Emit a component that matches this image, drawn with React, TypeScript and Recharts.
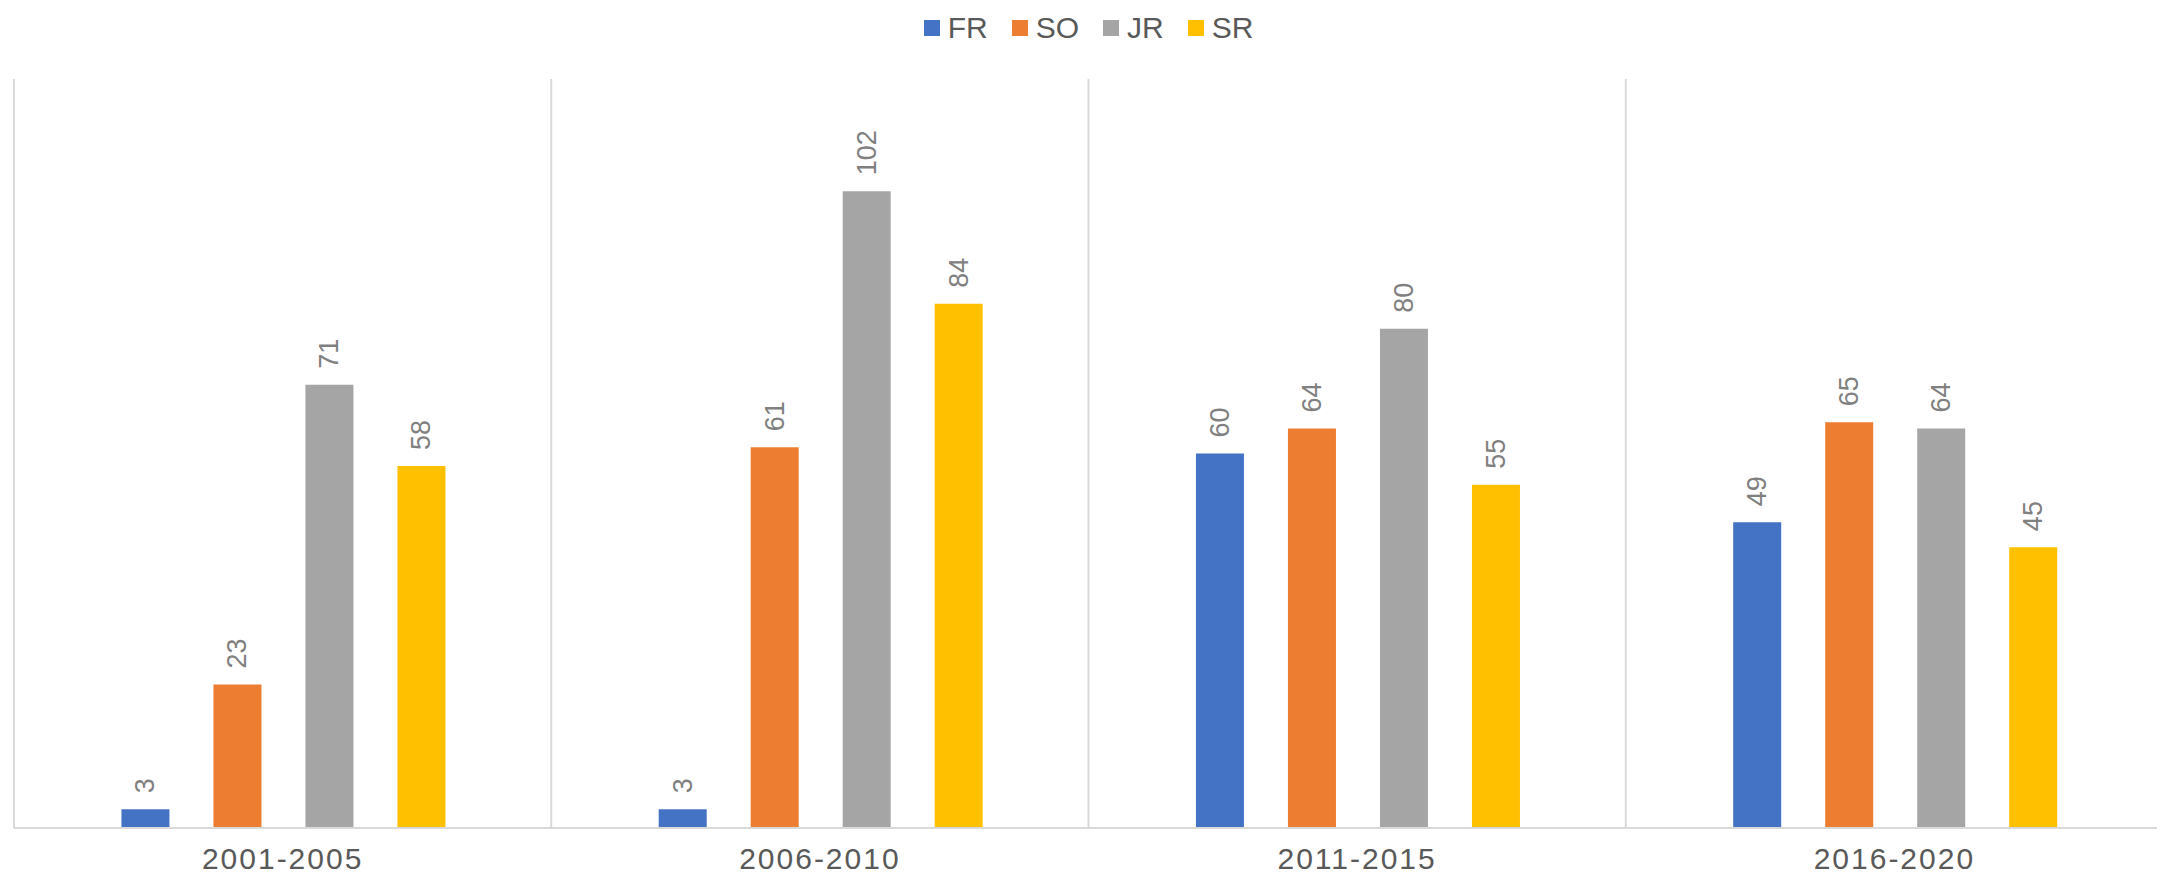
import { BarChart, Bar, XAxis, YAxis, CartesianGrid, Legend, LabelList } from 'recharts';

const periods = ['2001-2005', '2006-2010', '2011-2015', '2016-2020'];
const fr = [3, 3, 60, 49];
const so = [23, 61, 64, 65];
const jr = [71, 102, 80, 64];
const sr = [58, 84, 55, 45];

const series = [
  { key: 'FR', values: fr, color: '#4472c4' },
  { key: 'SO', values: so, color: '#ed7d31' },
  { key: 'JR', values: jr, color: '#a5a5a5' },
  { key: 'SR', values: sr, color: '#ffc000' },
];

const data = periods.map((p, i) => {
  const row: Record<string, string | number> = { period: p };
  series.forEach(s => { row[s.key] = s.values[i]; });
  return row;
});

const FONT = '"Liberation Sans", Arial, sans-serif';

const RotatedLabel = (props: any) => {
  const { x, y, width, value } = props;
  const cx = x + width / 2;
  const cy = y - 16;
  return (
    <text
      x={cx}
      y={cy}
      transform={`rotate(-90, ${cx}, ${cy})`}
      textAnchor="start"
      dominantBaseline="central"
      fill="#808080"
      fontSize={27}
      fontFamily={FONT}
    >
      {value}
    </text>
  );
};

// keep the series order (recharts sorts the payload by name)
const LegendContent = () => (
  <div style={{ height: 40, display: 'flex', justifyContent: 'center', alignItems: 'center', fontFamily: FONT }}>
    {series.map(s => (
      <div key={s.key} style={{ display: 'flex', alignItems: 'center', margin: '0 12px' }}>
        <span style={{ width: 16, height: 16, background: s.color, display: 'inline-block', marginRight: 8 }} />
        <span style={{ fontSize: 30, color: '#595959' }}>{s.key}</span>
      </div>
    ))}
  </div>
);

export default function App() {
  return (
    <BarChart
      width={2157}
      height={870}
      data={data}
      margin={{ top: 31, right: 2, left: 6, bottom: 0 }}
      barCategoryGap="20%"
      barGap={44}
    >
      <CartesianGrid
        horizontal={false}
        stroke="#d9d9d9"
        strokeWidth={2}
        verticalCoordinatesGenerator={({ offset }: any) =>
          periods.map((_, i) => offset.left + (offset.width * i) / periods.length).concat(offset.left + offset.width)
        }
      />
      <XAxis
        dataKey="period"
        height={50}
        tickLine={false}
        axisLine={{ stroke: '#d9d9d9', strokeWidth: 2 }}
        tick={{ fill: '#595959', fontSize: 30, fontFamily: FONT, letterSpacing: 2 }}
        tickMargin={14}
      />
      <YAxis hide domain={[0, 120]} />
      <Legend verticalAlign="top" wrapperStyle={{ top: 0 }} content={<LegendContent />} />
      {series.map(s => (
        <Bar key={s.key} dataKey={s.key} fill={s.color} isAnimationActive={false}>
          <LabelList dataKey={s.key} content={<RotatedLabel />} />
        </Bar>
      ))}
    </BarChart>
  );
}
